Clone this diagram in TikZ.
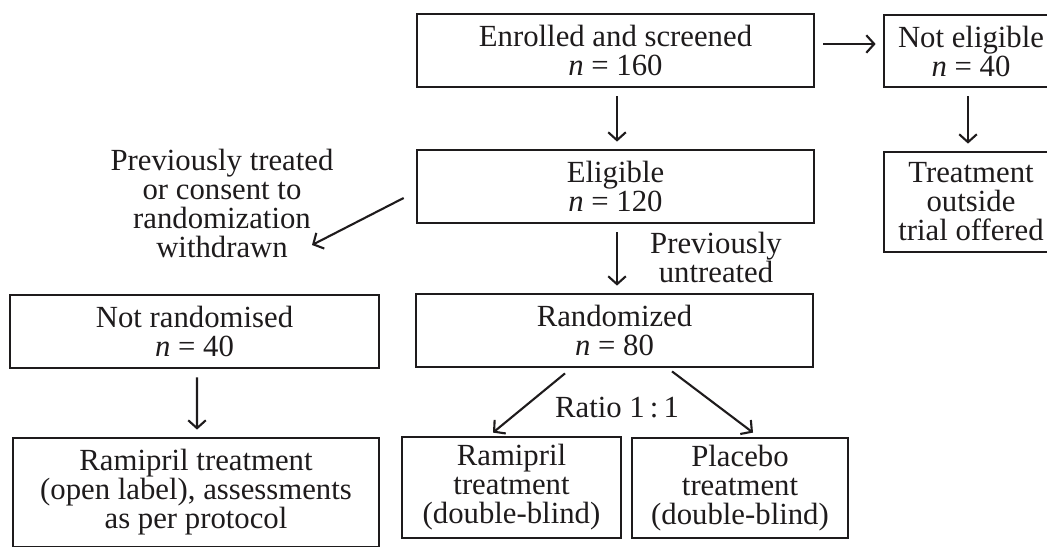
\documentclass[tikz,border=0pt]{standalone}
\usepackage{fontspec}
\setmainfont{Liberation Serif}
\usetikzlibrary{positioning, arrows.meta}
\definecolor{ink}{RGB}{30,27,28}

\tikzset{
    box/.style={draw=ink, rectangle, line width=1.6pt, align=center, inner sep=0pt, text=ink},
    note/.style={align=center, inner sep=0pt, text=ink},
    arr/.style={draw=ink, line width=1.2pt, -{Straight Barb[length=4.5pt,width=10pt]}},
    gap/.style={shorten <=0.16cm, shorten >=0.14cm},
}

\begin{document}
\begin{tikzpicture}[x=0.02cm, y=-0.02cm, font=\fontsize{17.5}{16.5}\selectfont]
    \useasboundingbox (0,0) rectangle (1047,547);
    \clip (0,0) rectangle (1047,547);

    % main column
    \node[box, minimum width=7.94cm, minimum height=1.46cm] (enrolled) at (615.5,50.5)
        {Enrolled and screened\\\textit{n} = 160};
    \node[box, minimum width=7.94cm, minimum height=1.46cm] (elig) at (615.5,186.5)
        {Eligible\\\textit{n} = 120};
    \node[box, minimum width=7.94cm, minimum height=1.46cm] (rand) at (614.5,330.5)
        {Randomized\\\textit{n} = 80};

    % right column (runs off the page edge)
    \node[box, minimum width=3.48cm, minimum height=1.44cm] (noteli) at (971,51)
        {Not eligible\\\textit{n} = 40};
    \node[box, minimum width=3.48cm, minimum height=2.0cm] (treat) at (971,202)
        {Treatment\\outside\\trial offered};

    % left column
    \node[note] (withdrawn) at (222,203)
        {Previously treated\\or consent to\\randomization\\withdrawn};
    \node[box, minimum width=7.38cm, minimum height=1.46cm] (notrand) at (194.5,331.5)
        {Not randomised\\\textit{n} = 40};
    \node[box, minimum width=7.32cm, minimum height=2.18cm] (ramopen) at (196,492.5)
        {Ramipril treatment\\(open label), assessments\\as per protocol};

    % randomised arms
    \node[box, minimum width=4.38cm, minimum height=2.02cm] (ramdb) at (511.5,487.5)
        {Ramipril\\treatment\\(double-blind)};
    \node[box, minimum width=4.32cm, minimum height=2.0cm] (placebo) at (740,488)
        {Placebo\\treatment\\(double-blind)};

    % labels on the connectors
    \node[note] (untreated) at (716,257.5) {Previously\\untreated};
    \node[note] (ratio) at (617,408) {Ratio 1\,:\,1};

    % connectors
    \draw[arr, gap] ([shift={(0,-6.5)}]enrolled.east) -- ([shift={(0,-7)}]noteli.west);
    \draw[arr, gap] ([shift={(1.5,0)}]enrolled.south) -- ([shift={(1.5,0)}]elig.north);
    \draw[arr, gap] ([shift={(1.5,0)}]elig.south) -- ([shift={(2.5,0)}]rand.north);
    \draw[arr, gap] ([shift={(-3,0)}]noteli.south) -- ([shift={(-3,0)}]treat.north);
    \draw[arr, gap] ([shift={(2.5,0)}]notrand.south) -- ([shift={(1,0)}]ramopen.north);
    \draw[arr] ([shift={(-12,11.5)}]elig.west) -- ([shift={(90,42)}]withdrawn.center);
    \draw[arr] ([shift={(-49.5,5)}]rand.south) -- ([shift={(-18.5,-3)}]ramdb.north);
    \draw[arr] ([shift={(57.5,3)}]rand.south) -- ([shift={(13,-4)}]placebo.north);
\end{tikzpicture}
\end{document}
